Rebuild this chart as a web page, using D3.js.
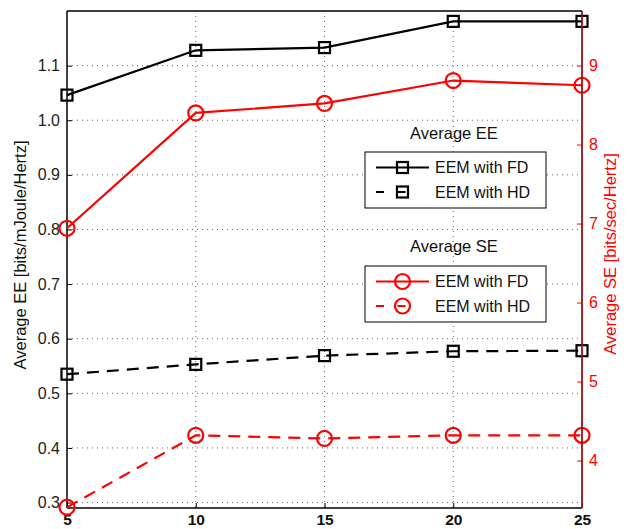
<!DOCTYPE html>
<html>
<head>
<meta charset="utf-8">
<script src="https://cdn.jsdelivr.net/npm/d3@7"></script>
<style>
  html, body { margin: 0; padding: 0; background: #fff; }
  svg { display: block; font-family: "Liberation Sans", Arial, Helvetica, sans-serif; }
</style>
</head>
<body>
<svg id="chart" width="630" height="529"></svg>
<script>
// Number of users (x) and the two metric families
const users = [5, 10, 15, 20, 25];
const eeFD = [1.046, 1.128, 1.133, 1.181, 1.181];
const eeHD = [0.535, 0.553, 0.569, 0.577, 0.578];
const seFD = [6.94, 8.40, 8.52, 8.81, 8.75];
const seHD = [3.41, 4.32, 4.28, 4.32, 4.32];

const xTicks = [5, 10, 15, 20, 25];
const eeTicks = [0.3, 0.4, 0.5, 0.6, 0.7, 0.8, 0.9, 1.0, 1.1];
const seTicks = [4, 5, 6, 7, 8, 9];

const eeDomain = [0.29, 1.2];
const seDomain = [3.40, 9.69];

const svg = d3.select("#chart");
const L = 67, R = 582, T = 11, B = 508;
const RED = "#ff0000";
const FONT = "Liberation Sans, Arial, sans-serif";

const x = d3.scaleLinear().domain([5, 25]).range([L, R]);
const yL = d3.scaleLinear().domain(eeDomain).range([B, T]);
const yR = d3.scaleLinear().domain(seDomain).range([B, T]);

// dotted grid
const grid = svg.append("g").attr("stroke", "#666").attr("stroke-width", 1)
  .attr("stroke-dasharray", "1,4");
xTicks.slice(1, -1).forEach(t => {
  grid.append("line").attr("x1", x(t)).attr("x2", x(t)).attr("y1", T).attr("y2", B);
});
eeTicks.forEach(t => {
  grid.append("line").attr("x1", L).attr("x2", R).attr("y1", yL(t)).attr("y2", yL(t));
});

// axes
const gL = svg.append("g").attr("transform", `translate(${L},0)`)
  .call(d3.axisLeft(yL).tickValues(eeTicks).tickSizeInner(-5).tickSizeOuter(0).tickPadding(7)
    .tickFormat(d3.format(".1f")));
gL.select(".domain").remove();
gL.attr("font-size", 16).attr("font-family", FONT);
gL.selectAll("line").attr("stroke", "#000");
gL.selectAll("text").attr("fill", "#222");

const gR = svg.append("g").attr("transform", `translate(${R},0)`)
  .call(d3.axisRight(yR).tickValues(seTicks).tickSizeInner(-5).tickSizeOuter(0).tickPadding(7)
    .tickFormat(d3.format("d")));
gR.select(".domain").remove();
gR.attr("font-size", 16).attr("font-family", FONT);
gR.selectAll("line").attr("stroke", RED);
gR.selectAll("text").attr("fill", RED);

const gB = svg.append("g").attr("transform", `translate(0,${B})`)
  .call(d3.axisBottom(x).tickValues(xTicks).tickSizeInner(-5).tickSizeOuter(0).tickPadding(6)
    .tickFormat(d3.format("d")));
gB.select(".domain").remove();
gB.attr("font-size", 15.5).attr("font-family", FONT).attr("font-weight", "bold");
gB.selectAll("line").attr("stroke", "#000");
gB.selectAll("text").attr("fill", "#111");

// frame
svg.append("line").attr("x1", L).attr("x2", R).attr("y1", T).attr("y2", T)
  .attr("stroke", "#000").attr("stroke-width", 1.5);
svg.append("line").attr("x1", L).attr("x2", R).attr("y1", B).attr("y2", B)
  .attr("stroke", "#000").attr("stroke-width", 1.5);
svg.append("line").attr("x1", L).attr("x2", L).attr("y1", T).attr("y2", B)
  .attr("stroke", "#000").attr("stroke-width", 1.5);

// series
function drawSeries(vals, yScale, color, dashed, marker) {
  const pts = users.map((u, i) => [x(u), yScale(vals[i])]);
  svg.append("path").attr("d", d3.line()(pts)).attr("fill", "none")
    .attr("stroke", color).attr("stroke-width", 2.2)
    .attr("stroke-dasharray", dashed ? "12,8" : null);
  pts.forEach(p => drawMarker(p[0], p[1], color, marker));
}
function drawMarker(cx, cy, color, marker) {
  if (marker === "square") {
    svg.append("rect").attr("x", cx - 5.5).attr("y", cy - 5.5).attr("width", 11).attr("height", 11)
      .attr("fill", "none").attr("stroke", color).attr("stroke-width", 2.2);
  } else {
    svg.append("circle").attr("cx", cx).attr("cy", cy).attr("r", 7.5)
      .attr("fill", "none").attr("stroke", color).attr("stroke-width", 2.2);
  }
}
drawSeries(eeFD, yL, "#000", false, "square");
drawSeries(eeHD, yL, "#000", true, "square");
drawSeries(seFD, yR, RED, false, "circle");
drawSeries(seHD, yR, RED, true, "circle");

// right axis line drawn on top
svg.append("line").attr("x1", R).attr("x2", R).attr("y1", T).attr("y2", B)
  .attr("stroke", "#a01010").attr("stroke-width", 1.8);

// axis titles
svg.append("text").attr("transform", "translate(26,255) rotate(-90)")
  .attr("text-anchor", "middle").attr("font-size", 16.5).attr("fill", "#111")
  .text("Average EE [bits/mJoule/Hertz]");
svg.append("text").attr("transform", "translate(616,254) rotate(-90)")
  .attr("text-anchor", "middle").attr("font-size", 16.5).attr("fill", RED)
  .text("Average SE [bits/sec/Hertz]");

// legends
function legend(title, titleY, boxTop, color, marker) {
  svg.append("text").attr("x", 454).attr("y", titleY).attr("text-anchor", "middle")
    .attr("font-size", 16.5).attr("fill", "#111").text(title);
  svg.append("rect").attr("x", 365).attr("y", boxTop).attr("width", 181).attr("height", 56)
    .attr("fill", "#fff").attr("stroke", "#000").attr("stroke-width", 1);
  const rows = [["EEM with FD", false], ["EEM with HD", true]];
  rows.forEach((r, i) => {
    const cy = boxTop + 15.5 + i * 24.5;
    svg.append("line").attr("x1", 376).attr("x2", 429).attr("y1", cy).attr("y2", cy)
      .attr("stroke", color).attr("stroke-width", 2.2)
      .attr("stroke-dasharray", r[1] ? "8,13.5,8,100" : null);
    drawMarker(402.5, cy, color, marker);
    svg.append("text").attr("x", 435).attr("y", cy + 5.5).attr("font-size", 16)
      .attr("fill", "#111").text(r[0]);
  });
}
legend("Average EE", 139, 152, "#000", "square");
legend("Average SE", 252, 266, RED, "circle");
</script>
</body>
</html>
